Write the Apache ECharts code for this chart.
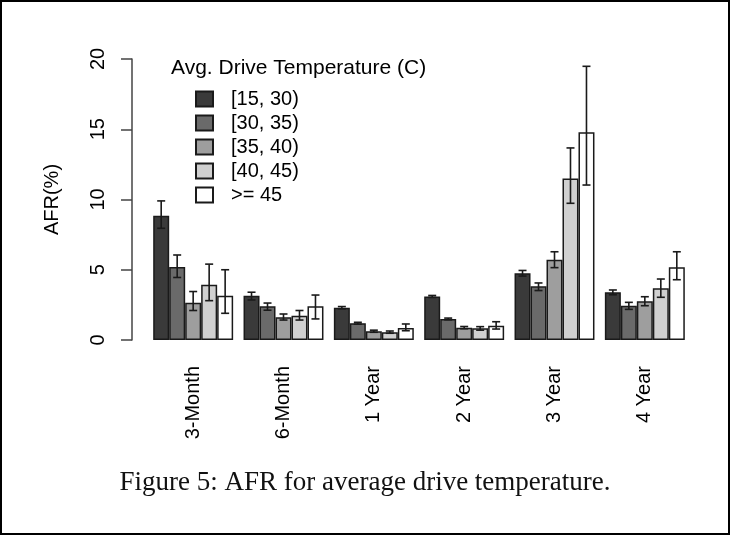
<!DOCTYPE html>
<html>
<head>
<meta charset="utf-8">
<script src="https://cdn.jsdelivr.net/npm/echarts@6/dist/echarts.min.js"></script>
<style>
html,body{margin:0;padding:0;background:#fff;}
#chart{width:730px;height:535px;position:absolute;left:0;top:0;}
#frame{position:absolute;left:0;top:0;width:730px;height:535px;box-sizing:border-box;border:2px solid #000;pointer-events:none;}
</style>
</head>
<body>
<div id="chart"></div>
<div id="frame"></div>
<script>
var categories = ['3-Month', '6-Month', '1 Year', '2 Year', '3 Year', '4 Year'];
var seriesNames = ['[15, 30)', '[30, 35)', '[35, 40)', '[40, 45)', '>= 45'];
var yTicks = [0, 5, 10, 15, 20];

var afr15_30 = [8.85, 3.15, 2.30, 3.10, 4.75, 3.40];
var lo15_30  = [7.95, 2.85, 2.22, 3.03, 4.55, 3.22];
var hi15_30  = [9.90, 3.40, 2.38, 3.17, 4.95, 3.56];

var afr30_35 = [5.20, 2.40, 1.20, 1.50, 3.82, 2.44];
var lo30_35  = [4.45, 2.12, 1.13, 1.44, 3.52, 2.18];
var hi30_35  = [6.05, 2.63, 1.26, 1.56, 4.06, 2.68];

var afr35_40 = [2.65, 1.62, 0.62, 0.88, 5.71, 2.75];
var lo35_40  = [2.10, 1.42, 0.55, 0.80, 5.15, 2.44];
var hi35_40  = [3.45, 1.85, 0.70, 0.96, 6.28, 3.08];

var afr40_45 = [3.94, 1.73, 0.56, 0.83, 11.50, 3.68];
var lo40_45  = [2.80, 1.42, 0.48, 0.70, 9.73, 3.04];
var hi40_45  = [5.40, 2.10, 0.64, 0.95, 13.67, 4.34];

var afr45 = [3.15, 2.40, 0.86, 1.02, 14.78, 5.17];
var lo45  = [1.90, 1.50, 0.66, 0.78, 11.03, 4.29];
var hi45  = [5.00, 3.20, 1.14, 1.30, 19.48, 6.28];

var values = [afr15_30, afr30_35, afr35_40, afr40_45, afr45];
var lows = [lo15_30, lo30_35, lo35_40, lo40_45, lo45];
var highs = [hi15_30, hi30_35, hi35_40, hi40_45, hi45];
var colors = ['#3a3a3a', '#6a6a6a', '#9e9e9e', '#d0d0d0', '#ffffff'];

var CAT_GAP = 0.115;
var FONT = '"Liberation Sans", Arial, sans-serif';

function errSeries(k) {
  var data = categories.map(function (c, i) { return [i, lows[k][i], highs[k][i]]; });
  return {
    type: 'custom',
    name: seriesNames[k] + ' err',
    z: 5,
    silent: true,
    data: data,
    encode: { x: 0, y: [1, 2] },
    renderItem: function (params, api) {
      var ci = api.value(0);
      var band = api.size([1, 0])[0];
      var bw = band * (1 - CAT_GAP) / 5;
      var top = api.coord([ci, api.value(2)]);
      var bot = api.coord([ci, api.value(1)]);
      var x = top[0] + (k - 2) * bw;
      var cap = 4;
      var st = { stroke: '#1a1a1a', lineWidth: 1.6 };
      return {
        type: 'group',
        children: [
          { type: 'line', shape: { x1: x, y1: top[1], x2: x, y2: bot[1] }, style: st },
          { type: 'line', shape: { x1: x - cap, y1: top[1], x2: x + cap, y2: top[1] }, style: st },
          { type: 'line', shape: { x1: x - cap, y1: bot[1], x2: x + cap, y2: bot[1] }, style: st }
        ]
      };
    }
  };
}

var series = [];
for (var k = 0; k < 5; k++) {
  series.push({
    type: 'bar',
    name: seriesNames[k],
    data: values[k],
    barGap: '0%',
    barCategoryGap: (CAT_GAP * 100) + '%',
    itemStyle: { color: colors[k], borderColor: '#1a1a1a', borderWidth: 1.5 },
    silent: true
  });
}
for (var k2 = 0; k2 < 5; k2++) series.push(errSeries(k2));

var chart = echarts.init(document.getElementById('chart'));
chart.setOption({
  animation: false,
  backgroundColor: '#fff',
  title: [
    {
      text: 'Avg. Drive Temperature (C)',
      left: 171, top: 58,
      textStyle: { fontFamily: FONT, fontSize: 21, fontWeight: 'normal', color: '#000' },
      padding: 0
    },
    {
      text: 'Figure 5: AFR for average drive temperature.',
      left: 'center', top: 469,
      textStyle: { fontFamily: '"Liberation Serif", "Times New Roman", serif', fontSize: 27, fontWeight: 'normal', color: '#111' },
      padding: 0
    }
  ],
  legend: {
    data: seriesNames,
    orient: 'vertical',
    left: 195, top: 89,
    itemWidth: 17, itemHeight: 15,
    itemGap: 4,
    icon: 'rect',
    padding: 0,
    textStyle: { fontFamily: FONT, fontSize: 20, color: '#000', padding: [0, 0, 0, 13] },
    selectedMode: false
  },
  grid: { left: 148, right: 40, top: 59, bottom: 195 },
  xAxis: {
    type: 'category',
    data: categories,
    axisLine: { show: false },
    axisTick: { show: false },
    axisLabel: { rotate: 90, fontFamily: FONT, fontSize: 20, color: '#000', margin: 26 }
  },
  yAxis: {
    type: 'value',
    min: yTicks[0], max: yTicks[yTicks.length - 1], interval: 5,
    offset: 16,
    name: 'AFR(%)',
    nameLocation: 'middle',
    nameRotate: 90,
    nameGap: 70,
    nameTextStyle: { fontFamily: FONT, fontSize: 20, color: '#000' },
    axisLine: { show: true, lineStyle: { color: '#444', width: 1.5 } },
    axisTick: { show: true, length: 11, lineStyle: { color: '#444', width: 1.5 } },
    axisLabel: { rotate: 90, fontFamily: FONT, fontSize: 20, color: '#000', margin: 24 },
    splitLine: { show: false }
  },
  series: series
});
</script>
</body>
</html>
